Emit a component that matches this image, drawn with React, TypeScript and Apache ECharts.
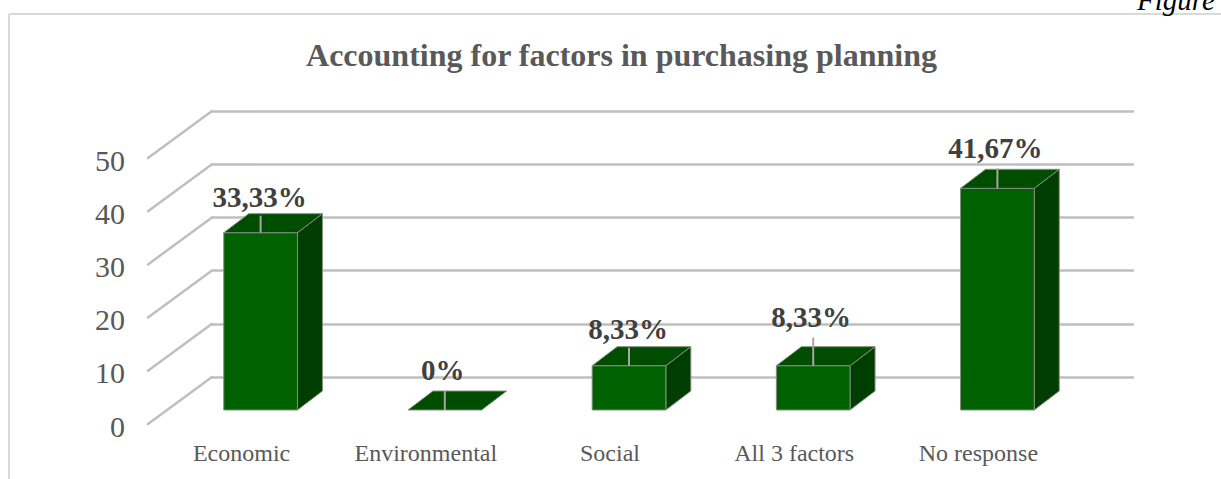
import React, { useEffect, useRef } from "react";
import * as echarts from "echarts";

const categories = ["Economic", "Environmental", "Social", "All 3 factors", "No response"];
const values = [33.33, 0, 8.33, 8.33, 41.67];
const valueLabels = ["33,33%", "0%", "8,33%", "8,33%", "41,67%"];
const axisTicks = [0, 10, 20, 30, 40, 50];

// layout of the pseudo-3D drawing
const leaderLengths = [17, 19, 18, 28, 20];
const labelLifts = [36, 40, 37, 49, 40];
const labelShifts = [-1, -2, -1, -2, -2];
const WALL_DX = 64;
const WALL_DY = 47;
const BAR_DX = 25;
const BAR_DY = 19;
const FONT = '"Liberation Serif", "Times New Roman", serif';

export default function App() {
  const ref = useRef<HTMLDivElement>(null);
  useEffect(() => {
    const chart = echarts.init(ref.current!, null, { renderer: "svg" });
    const hiddenAxis = { show: false };
    chart.setOption({
      animation: false,
      backgroundColor: "#fff",
      title: {
        text: "Accounting for factors in purchasing planning",
        left: 616.5,
        top: 34,
        textAlign: "center",
        textStyle: { fontFamily: FONT, fontSize: 32, fontWeight: "bold", color: "#595959" },
      },
      graphic: [
        { type: "line", shape: { x1: 9, y1: 14, x2: 1221, y2: 14 }, style: { stroke: "#d9d9d9", lineWidth: 2 } },
        { type: "line", shape: { x1: 9, y1: 14, x2: 9, y2: 479 }, style: { stroke: "#d9d9d9", lineWidth: 2 } },
        {
          type: "text",
          x: 1137,
          y: -15,
          style: { text: "Figure", font: `italic 29px ${FONT}`, fill: "#000" },
        },
      ],
      grid: [
        { left: 212, width: 921, top: 111, height: 266 },
        { left: 148, width: 64, top: 160, height: 266 },
        { left: 168.5, width: 921, top: 144, height: 266 },
        { left: 149.5, width: 921, top: 144, height: 266 },
      ],
      xAxis: [
        { gridIndex: 0, type: "value", min: 0, max: 1, ...hiddenAxis },
        { gridIndex: 1, type: "value", min: 0, max: 1, ...hiddenAxis },
        { gridIndex: 2, type: "category", data: categories, ...hiddenAxis },
        {
          gridIndex: 3,
          type: "category",
          data: categories,
          axisLine: { show: false },
          axisTick: { show: false },
          axisLabel: { margin: 31, fontFamily: FONT, fontSize: 24, color: "#595959", interval: 0 },
        },
      ],
      yAxis: [
        {
          gridIndex: 0,
          type: "value",
          min: 0,
          max: 50,
          interval: 10,
          axisLine: { show: false },
          axisTick: { show: false },
          axisLabel: { show: false },
          splitLine: { show: true, lineStyle: { color: "#bfbfbf", width: 2.5, cap: "round" } },
        },
        {
          gridIndex: 1,
          type: "value",
          min: 0,
          max: 50,
          interval: 10,
          axisLine: { show: false },
          axisTick: { show: false },
          splitLine: { show: false },
          axisLabel: { margin: 23, fontFamily: FONT, fontSize: 30, color: "#595959" },
        },
        { gridIndex: 2, type: "value", min: 0, max: 50, interval: 10, ...hiddenAxis },
        { gridIndex: 3, type: "value", min: 0, max: 50, interval: 10, ...hiddenAxis },
      ],
      series: [
        {
          type: "custom",
          xAxisIndex: 0,
          yAxisIndex: 0,
          silent: true,
          clip: false,
          data: axisTicks.map((t) => [0, t]),
          renderItem: (_p: any, api: any) => {
            const p = api.coord([0, api.value(1)]);
            return {
              type: "line",
              shape: { x1: p[0] - WALL_DX, y1: p[1] + WALL_DY, x2: p[0], y2: p[1] },
              style: { stroke: "#bfbfbf", lineWidth: 2.5, lineCap: "round" },
            };
          },
        },
        {
          type: "custom",
          xAxisIndex: 2,
          yAxisIndex: 2,
          silent: true,
          clip: false,
          z: 5,
          data: values.map((v, i) => [i, v]),
          renderItem: (p: any, api: any) => {
            const idx = api.value(0);
            const top = api.coord([idx, api.value(1)]);
            const base = api.coord([idx, 0]);
            const w = api.size([1, 0])[0] * 0.4;
            const l = top[0] - w / 2;
            const r = top[0] + w / 2;
            const edge = { stroke: "#7f8f7f", lineWidth: 1 };
            const i = p.dataIndex;
            const children: any[] = [];
            if (base[1] - top[1] > 0.5) {
              children.push({
                type: "polygon",
                shape: { points: [[r, top[1]], [r + BAR_DX, top[1] - BAR_DY], [r + BAR_DX, base[1] - BAR_DY], [r, base[1]]] },
                style: { fill: "#003d00", ...edge },
              });
              children.push({
                type: "rect",
                shape: { x: l, y: top[1], width: w, height: base[1] - top[1] },
                style: { fill: "#006100", ...edge },
              });
            }
            children.push({
              type: "polygon",
              shape: { points: [[l, top[1]], [l + BAR_DX, top[1] - BAR_DY], [r + BAR_DX, top[1] - BAR_DY], [r, top[1]]] },
              style: { fill: "#004d00", ...edge },
            });
            children.push({
              type: "line",
              shape: { x1: top[0], y1: top[1], x2: top[0], y2: top[1] - leaderLengths[i] },
              style: { stroke: "#a6a6a6", lineWidth: 2 },
            });
            children.push({
              type: "text",
              style: {
                text: valueLabels[i],
                x: top[0] + labelShifts[i],
                y: top[1] - labelLifts[i],
                align: "center",
                verticalAlign: "middle",
                font: `bold 29px ${FONT}`,
                fill: "#404040",
              },
            });
            return { type: "group", children };
          },
        },
      ],
    });
    return () => chart.dispose();
  }, []);
  return <div ref={ref} style={{ position: "fixed", left: 0, top: 0, width: 1221, height: 479 }} />;
}
